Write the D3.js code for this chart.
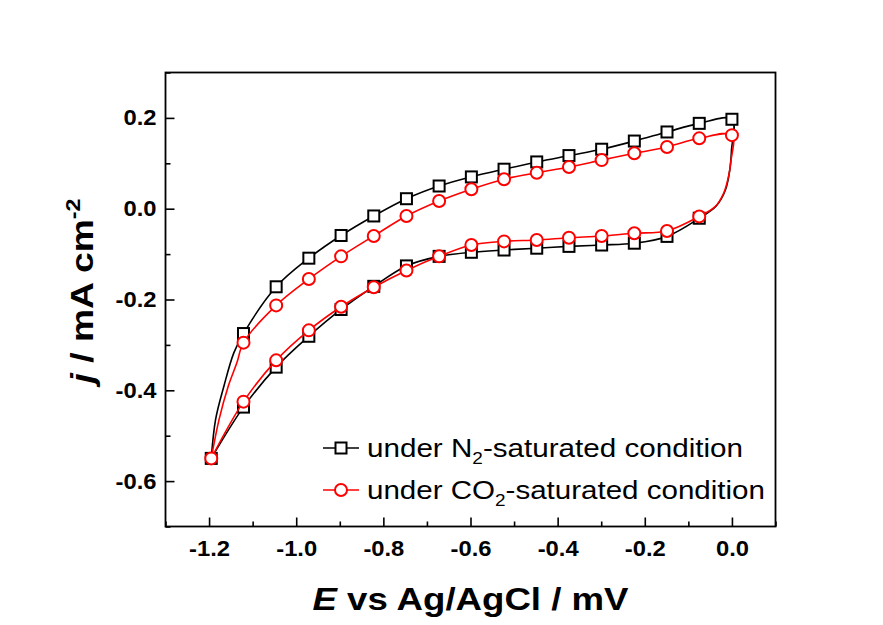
<!DOCTYPE html>
<html>
<head>
<meta charset="utf-8">
<script src="https://cdn.jsdelivr.net/npm/d3@7"></script>
<style>
  body { margin: 0; background: #fff; }
  svg text { font-family: "Liberation Sans", Arial, sans-serif; }
</style>
</head>
<body>
<div id="chart"></div>
<script>
// Marker potentials (V), same for every sweep
const potential = [-1.195, -1.121, -1.046, -0.971, -0.897, -0.822, -0.747, -0.672, -0.598,
  -0.523, -0.448, -0.374, -0.299, -0.224, -0.149, -0.075, 0.0];

// Current density at the markers, forward sweep (-1.2 -> 0)
const n2Forward = [-0.550, -0.275, -0.172, -0.109, -0.059, -0.016, 0.022, 0.050, 0.070,
  0.087, 0.103, 0.117, 0.131, 0.149, 0.169, 0.188, 0.197];
const co2Forward = [-0.550, -0.295, -0.213, -0.155, -0.105, -0.060, -0.016, 0.017, 0.043,
  0.065, 0.079, 0.092, 0.107, 0.122, 0.136, 0.155, 0.162];

// Reverse sweep (0 -> -1.2), values at potential[0..15]
const n2Reverse = [-0.550, -0.437, -0.349, -0.281, -0.222, -0.171, -0.126, -0.105, -0.096,
  -0.091, -0.087, -0.083, -0.080, -0.076, -0.061, -0.021];
const co2Reverse = [-0.550, -0.425, -0.334, -0.268, -0.216, -0.173, -0.136, -0.105, -0.080,
  -0.072, -0.069, -0.064, -0.060, -0.054, -0.049, -0.017];

// Unmarked points on the steep ends of each loop
const n2LowTurn = [[-1.185, -0.464], [-1.166, -0.391], [-1.143, -0.317]];
const n2HighTurn = [[-0.001, 0.129], [-0.005, 0.085], [-0.015, 0.041], [-0.036, 0.006]];
const co2LowTurn = [[-1.177, -0.464], [-1.156, -0.391], [-1.136, -0.339]];
const co2HighTurn = [[-0.002, 0.107], [-0.008, 0.070], [-0.019, 0.034], [-0.038, 0.005]];

const xMajor = [-1.2, -1.0, -0.8, -0.6, -0.4, -0.2, 0.0];
const xMinor = [-1.3, -1.1, -0.9, -0.7, -0.5, -0.3, -0.1, 0.1];
const yMajor = [-0.6, -0.4, -0.2, 0.0, 0.2];
const yMinor = [-0.7, -0.5, -0.3, -0.1, 0.1, 0.3];

const width = 883, height = 625;
const plot = { left: 165.5, right: 775.5, top: 72.5, bottom: 526.5 };

const svg = d3.select("#chart").append("svg")
  .attr("width", width)
  .attr("height", height);

const x = d3.scaleLinear().domain([-1.3, 0.1]).range([plot.left, plot.right]);
const y = d3.scaleLinear().domain([-0.7, 0.3]).range([plot.bottom, plot.top]);

// build the closed loop for one condition
function loop(fwd, rev, lowTurn, highTurn) {
  const pts = [[potential[0], fwd[0]]];
  lowTurn.forEach(p => pts.push(p));
  for (let i = 1; i < fwd.length; i++) pts.push([potential[i], fwd[i]]);
  highTurn.forEach(p => pts.push(p));
  for (let i = rev.length - 1; i >= 0; i--) pts.push([potential[i], rev[i]]);
  return pts;
}
function markers(fwd, rev) {
  const pts = fwd.map((v, i) => [potential[i], v]);
  for (let i = 1; i < rev.length; i++) pts.push([potential[i], rev[i]]);
  return pts;
}

// the original text is a little wider than Arial, stretch it
function stretch(sel, target, k) {
  sel.each(function() {
    const w = this.getComputedTextLength();
    this.setAttribute("textLength", target || w * k);
    this.setAttribute("lengthAdjust", "spacingAndGlyphs");
  });
}

const line = d3.line()
  .x(d => x(d[0]))
  .y(d => y(d[1]))
  .curve(d3.curveCatmullRom.alpha(0.5));

const series = [
  { color: "#000", shape: "square",
    loop: loop(n2Forward, n2Reverse, n2LowTurn, n2HighTurn), marks: markers(n2Forward, n2Reverse) },
  { color: "#ff0000", shape: "circle",
    loop: loop(co2Forward, co2Reverse, co2LowTurn, co2HighTurn), marks: markers(co2Forward, co2Reverse) }
];

function drawMarker(g, shape, color, cx, cy) {
  if (shape === "square") {
    g.append("rect")
      .attr("x", cx - 5.5).attr("y", cy - 5.5)
      .attr("width", 11).attr("height", 11)
      .attr("fill", "#fff").attr("stroke", color).attr("stroke-width", 2);
  } else {
    g.append("circle")
      .attr("cx", cx).attr("cy", cy).attr("r", 6)
      .attr("fill", "#fff").attr("stroke", color).attr("stroke-width", 2);
  }
}

series.forEach(s => {
  svg.append("path")
    .attr("d", line(s.loop))
    .attr("fill", "none")
    .attr("stroke", s.color)
    .attr("stroke-width", 1.6);
  const g = svg.append("g");
  s.marks.forEach(d => drawMarker(g, s.shape, s.color, x(d[0]), y(d[1])));
});

// frame
svg.append("rect")
  .attr("x", plot.left).attr("y", plot.top)
  .attr("width", plot.right - plot.left).attr("height", plot.bottom - plot.top)
  .attr("fill", "none").attr("stroke", "#000").attr("stroke-width", 1.8);

// axes, ticks pointing inward
svg.append("g")
  .attr("transform", `translate(0,${plot.bottom})`)
  .call(d3.axisBottom(x).tickValues(xMajor).tickSize(-9).tickPadding(14)
    .tickFormat(d3.format(".1f")));
svg.append("g")
  .attr("transform", `translate(0,${plot.bottom})`)
  .call(d3.axisBottom(x).tickValues(xMinor).tickSize(-5).tickFormat(""));

svg.append("g")
  .attr("transform", `translate(${plot.left},0)`)
  .call(d3.axisLeft(y).tickValues(yMajor).tickSize(-9).tickPadding(9)
    .tickFormat(d3.format(".1f")));
svg.append("g")
  .attr("transform", `translate(${plot.left},0)`)
  .call(d3.axisLeft(y).tickValues(yMinor).tickSize(-5).tickFormat(""));

svg.selectAll(".domain").remove();
svg.selectAll(".tick line").attr("stroke-width", 1.6);
const tickText = svg.selectAll(".tick text")
  .attr("font-family", "Liberation Sans, Arial, sans-serif")
  .attr("font-size", 22)
  .attr("font-weight", "bold")
  .attr("fill", "#000")
  .text(function() { return d3.select(this).text().replace("\u2212", "-"); });
stretch(tickText, null, 1.08);

// axis titles
const xTitle = svg.append("text")
  .attr("x", (plot.left + plot.right) / 2)
  .attr("y", 610)
  .attr("text-anchor", "middle")
  .attr("font-size", 32)
  .attr("font-weight", "bold");
xTitle.append("tspan").attr("font-style", "italic").text("E");
xTitle.append("tspan").text(" vs Ag/AgCl / mV");
stretch(xTitle, 316);

const yTitle = svg.append("text")
  .attr("transform", `translate(93,291) rotate(-90)`)
  .attr("text-anchor", "middle")
  .attr("font-size", 32)
  .attr("font-weight", "bold");
yTitle.append("tspan").attr("font-style", "italic").text("j");
yTitle.append("tspan").text(" / mA cm");
yTitle.append("tspan").attr("font-size", 20).attr("dy", -13).text("-2");
stretch(yTitle, 185);

// legend
const legendRows = [
  { color: "#000", shape: "square", label: "under N", tail: "-saturated condition", len: 376 },
  { color: "#ff0000", shape: "circle", label: "under CO", tail: "-saturated condition", len: 398 }
];
legendRows.forEach((r, i) => {
  const ly = 448 + i * 42;
  const g = svg.append("g");
  g.append("line")
    .attr("x1", 323).attr("x2", 359).attr("y1", ly).attr("y2", ly)
    .attr("stroke", r.color).attr("stroke-width", 1.6);
  drawMarker(g, r.shape, r.color, 341, ly);
  const t = g.append("text")
    .attr("x", 367).attr("y", ly + 9)
    .attr("font-size", 25)
    .attr("fill", "#000");
  t.append("tspan").text(r.label);
  t.append("tspan").attr("font-size", 16).attr("dy", 7).text("2");
  t.append("tspan").attr("dy", -7).text(r.tail);
  stretch(t, r.len);
});
</script>
</body>
</html>
